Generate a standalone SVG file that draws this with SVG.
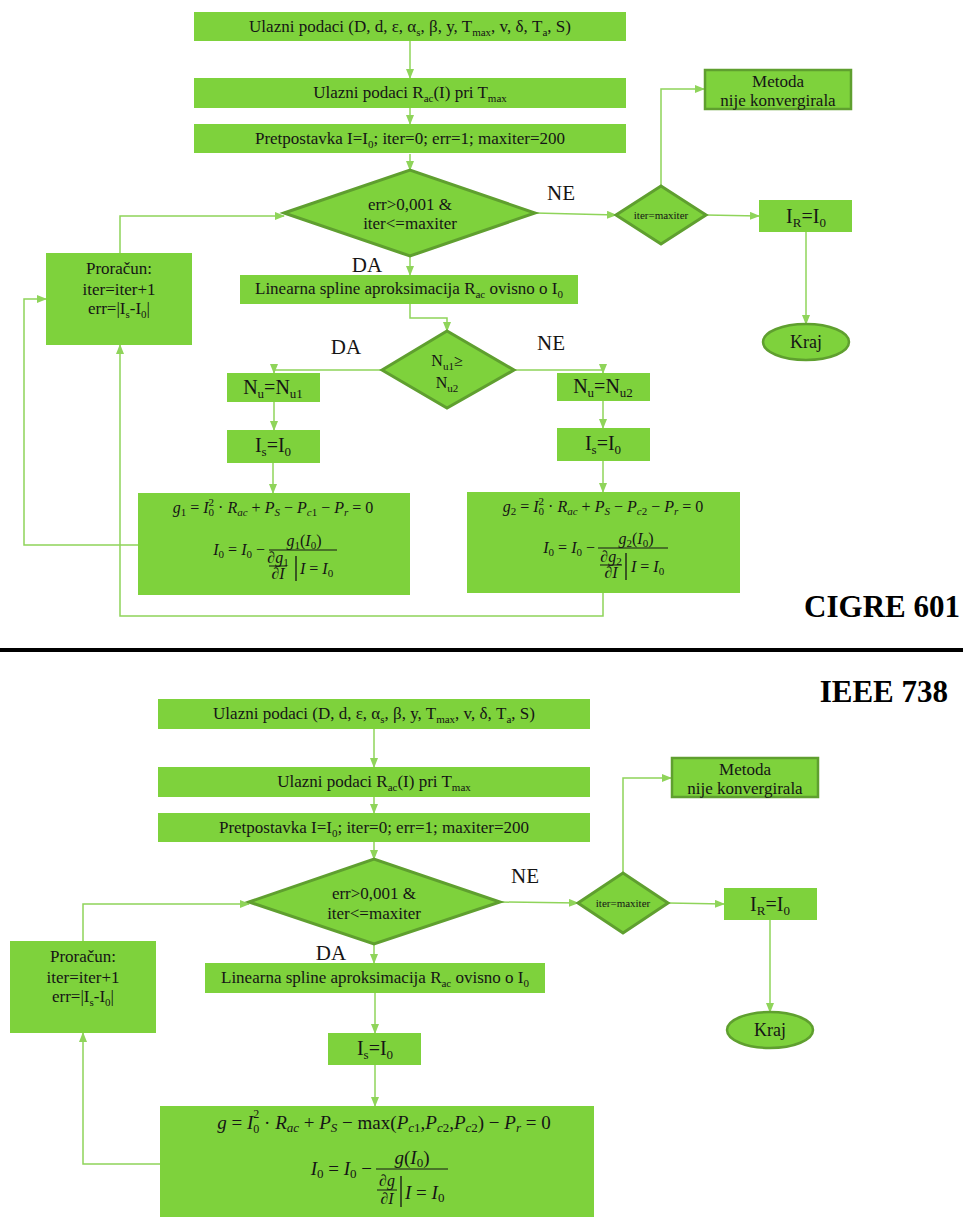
<svg xmlns="http://www.w3.org/2000/svg" width="963" height="1217" viewBox="0 0 963 1217">
<defs>
<marker id="ah" markerWidth="10" markerHeight="8" refX="9" refY="4" orient="auto" markerUnits="userSpaceOnUse">
<path d="M0,0 L10,4 L0,8 z" fill="#8fd45a"/>
</marker>
<style>
.b{fill:#7ed23c}
.d{fill:#7ed23c;stroke:#5f9f2f;stroke-width:3}
.ob{fill:#7ed23c;stroke:#5f9f2f;stroke-width:2.5}
.c{fill:none;stroke:#8fd45a;stroke-width:1.5;marker-end:url(#ah)}
.ml{stroke:#151515;stroke-width:1}
text{font-family:"Liberation Serif","Times New Roman",serif;fill:#151515}
.t{font-size:17px;text-anchor:middle}
.s{font-size:11px}
.lb{font-size:21px;text-anchor:middle}
.big{font-size:20px;text-anchor:middle}
.bs{font-size:13px}
.sm{font-size:11px;text-anchor:middle}
.h{font-size:31px;font-weight:bold;text-anchor:end;fill:#000}
.f{font-size:16px}
.fb{font-size:19px}
.i{font-style:italic}
.fs{font-size:11px}
.fbs{font-size:13px}
.fsup{font-size:12px}
.mid{text-anchor:middle}
.end{text-anchor:end}
</style>
</defs>

<g id="connectors">
<path class="c" d="M410,41 V78"/>
<path class="c" d="M410,108 V124"/>
<path class="c" d="M410,154 V170"/>
<path class="c" d="M535,213 L616,215"/>
<path class="c" d="M661,186 V89 H704"/>
<path class="c" d="M706,215 L759,216"/>
<path class="c" d="M806,232 V324"/>
<path class="c" d="M410,256 V275"/>
<path class="c" d="M410,304 V318 H447 V331"/>
<path class="c" d="M382,370 H274 V373"/>
<path class="c" d="M514,370 H603 V373"/>
<path class="c" d="M274,402 V430"/>
<path class="c" d="M603,401 V428"/>
<path class="c" d="M273,463 V493"/>
<path class="c" d="M603,461 V492"/>
<path class="c" d="M138,545 H24 V299 H46"/>
<path class="c" d="M603,593 V616 H120 V345"/>
<path class="c" d="M120,253 V216 H284"/>

<path class="c" d="M374,729 V767"/>
<path class="c" d="M374,797 V813"/>
<path class="c" d="M374,842 V859"/>
<path class="c" d="M500,902 L578,903"/>
<path class="c" d="M623,873 V778 H671"/>
<path class="c" d="M668,903 L724,904"/>
<path class="c" d="M770,920 V1012"/>
<path class="c" d="M374,944 V963"/>
<path class="c" d="M375,993 V1033"/>
<path class="c" d="M375,1065 V1106"/>
<path class="c" d="M160,1164 H83 V1033"/>
<path class="c" d="M83,941 V904 H249"/>
</g>

<!-- CIGRE 601 -->
<g id="c-ulaz1">
<rect class="b" x="194" y="12" width="432" height="29"/>
<text class="t" x="410" y="32">Ulazni podaci (D, d, ε, α<tspan class="s" dy="4">s</tspan><tspan dy="-4">, β, y, T</tspan><tspan class="s" dy="4">max</tspan><tspan dy="-4">, v, δ, T</tspan><tspan class="s" dy="4">a</tspan><tspan dy="-4">, S)</tspan></text>
</g>
<g id="c-ulaz2">
<rect class="b" x="194" y="78" width="432" height="30"/>
<text class="t" x="410" y="98">Ulazni podaci R<tspan class="s" dy="4">ac</tspan><tspan dy="-4">(I) pri T</tspan><tspan class="s" dy="4">max</tspan></text>
</g>
<g id="c-pretp">
<rect class="b" x="194" y="124" width="432" height="29"/>
<text class="t" x="410" y="144">Pretpostavka I=I<tspan class="s" dy="4">0</tspan><tspan dy="-4">; iter=0; err=1; maxiter=200</tspan></text>
</g>
<g id="c-uvjet">
<polygon class="d" points="284,213 410,170 535,213 410,256"/>
<text class="t" x="410" y="210">err&gt;0,001 &amp;</text>
<text class="t" x="410" y="229">iter&lt;=maxiter</text>
</g>
<text class="lb" x="561" y="200">NE</text>
<text class="lb" x="367" y="272">DA</text>
<g id="c-itermax">
<polygon class="d" points="616,215 661,186 706,215 661,244"/>
<text class="sm" x="661" y="219">iter=maxiter</text>
</g>
<g id="c-metoda">
<rect class="ob" x="705" y="70" width="146" height="39"/>
<text class="t" x="778" y="87">Metoda</text>
<text class="t" x="778" y="106">nije konvergirala</text>
</g>
<g id="c-ir">
<rect class="b" x="759" y="200" width="93" height="32"/>
<text class="big" x="806" y="223">I<tspan class="bs" dy="4">R</tspan><tspan dy="-4">=I</tspan><tspan class="bs" dy="4">0</tspan></text>
</g>
<g id="c-kraj">
<ellipse class="ob" cx="806" cy="342" rx="43" ry="18"/>
<text class="t" x="806" y="348" style="font-size:18px">Kraj</text>
</g>
<g id="c-spline">
<rect class="b" x="240" y="275" width="338" height="29"/>
<text class="t" x="409" y="294">Linearna spline aproksimacija R<tspan class="s" dy="4">ac</tspan><tspan dy="-4"> ovisno o I</tspan><tspan class="s" dy="4">0</tspan></text>
</g>
<g id="c-proracun">
<rect class="b" x="46" y="253" width="146" height="92"/>
<text class="t" x="119" y="274">Proračun:</text>
<text class="t" x="119" y="295">iter=iter+1</text>
<text class="t" x="119" y="314">err=|I<tspan class="s" dy="4">s</tspan><tspan dy="-4">-I</tspan><tspan class="s" dy="4">0</tspan><tspan dy="-4">|</tspan></text>
</g>
<g id="c-nu">
<polygon class="d" points="382,370 447,331 514,370 447,408"/>
<text class="t" x="447" y="366" style="font-size:16px">N<tspan class="s" dy="4">u1</tspan><tspan dy="-4">≥</tspan></text>
<text class="t" x="447" y="388" style="font-size:16px">N<tspan class="s" dy="4">u2</tspan></text>
</g>
<text class="lb" x="346" y="354">DA</text>
<text class="lb" x="551" y="350">NE</text>
<g id="c-nu1">
<rect class="b" x="227" y="373" width="93" height="29"/>
<text class="big" x="273" y="394">N<tspan class="bs" dy="4">u</tspan><tspan dy="-4">=N</tspan><tspan class="bs" dy="4">u1</tspan></text>
</g>
<g id="c-nu2">
<rect class="b" x="557" y="373" width="93" height="28"/>
<text class="big" x="603" y="393">N<tspan class="bs" dy="4">u</tspan><tspan dy="-4">=N</tspan><tspan class="bs" dy="4">u2</tspan></text>
</g>
<g id="c-is1">
<rect class="b" x="227" y="430" width="93" height="33"/>
<text class="big" x="273" y="452">I<tspan class="bs" dy="4">s</tspan><tspan dy="-4">=I</tspan><tspan class="bs" dy="4">0</tspan></text>
</g>
<g id="c-is2">
<rect class="b" x="557" y="428" width="93" height="33"/>
<text class="big" x="603" y="450">I<tspan class="bs" dy="4">s</tspan><tspan dy="-4">=I</tspan><tspan class="bs" dy="4">0</tspan></text>
</g>
<g id="c-g1">
<rect class="b" x="138" y="493" width="272" height="102"/>
<text class="f mid" x="273" y="513"><tspan class="i">g</tspan><tspan class="fs" dy="3">1</tspan><tspan dy="-3"> = </tspan><tspan class="i">I</tspan><tspan class="fs" dy="3">0</tspan><tspan class="fs" dx="-5.5" dy="-10">2</tspan><tspan dy="7"> · </tspan><tspan class="i">R</tspan><tspan class="fs i" dy="3">ac</tspan><tspan dy="-3"> + </tspan><tspan class="i">P</tspan><tspan class="fs i" dy="3">S</tspan><tspan dy="-3"> − </tspan><tspan class="i">P</tspan><tspan class="fs" dy="3"><tspan class="i">c</tspan>1</tspan><tspan dy="-3"> − </tspan><tspan class="i">P</tspan><tspan class="fs i" dy="3">r</tspan><tspan dy="-3"> = 0</tspan></text>
<text class="f end" x="265" y="555"><tspan class="i">I</tspan><tspan class="fs" dy="3">0</tspan><tspan dy="-3"> = </tspan><tspan class="i">I</tspan><tspan class="fs" dy="3">0</tspan><tspan dy="-3"> −</tspan></text>
<line class="ml" x1="269" y1="550" x2="337" y2="550"/>
<text class="f mid" x="304" y="546"><tspan class="i">g</tspan><tspan class="fs" dy="3">1</tspan><tspan dy="-3">(</tspan><tspan class="i">I</tspan><tspan class="fs" dy="3">0</tspan><tspan dy="-3">)</tspan></text>
<text class="f mid i" x="278" y="563">∂g<tspan class="fs" dy="3" style="font-style:normal">1</tspan></text>
<line class="ml" x1="269" y1="566" x2="287" y2="566"/>
<text class="f mid i" x="278" y="579">∂I</text>
<line class="ml" x1="296" y1="556" x2="296" y2="581" style="stroke-width:1.3"/>
<text class="f" x="300" y="574"><tspan class="i">I</tspan> = <tspan class="i">I</tspan><tspan class="fs" dy="3">0</tspan></text>
</g>
<g id="c-g2">
<rect class="b" x="467" y="492" width="273" height="101"/>
<text class="f mid" x="603" y="512"><tspan class="i">g</tspan><tspan class="fs" dy="3">2</tspan><tspan dy="-3"> = </tspan><tspan class="i">I</tspan><tspan class="fs" dy="3">0</tspan><tspan class="fs" dx="-5.5" dy="-10">2</tspan><tspan dy="7"> · </tspan><tspan class="i">R</tspan><tspan class="fs i" dy="3">ac</tspan><tspan dy="-3"> + </tspan><tspan class="i">P</tspan><tspan class="fs i" dy="3">S</tspan><tspan dy="-3"> − </tspan><tspan class="i">P</tspan><tspan class="fs" dy="3"><tspan class="i">c</tspan>2</tspan><tspan dy="-3"> − </tspan><tspan class="i">P</tspan><tspan class="fs i" dy="3">r</tspan><tspan dy="-3"> = 0</tspan></text>
<text class="f end" x="595" y="553"><tspan class="i">I</tspan><tspan class="fs" dy="3">0</tspan><tspan dy="-3"> = </tspan><tspan class="i">I</tspan><tspan class="fs" dy="3">0</tspan><tspan dy="-3"> −</tspan></text>
<line class="ml" x1="598" y1="548" x2="668" y2="548"/>
<text class="f mid" x="636" y="544"><tspan class="i">g</tspan><tspan class="fs" dy="3">2</tspan><tspan dy="-3">(</tspan><tspan class="i">I</tspan><tspan class="fs" dy="3">0</tspan><tspan dy="-3">)</tspan></text>
<text class="f mid i" x="611" y="562">∂g<tspan class="fs" dy="3" style="font-style:normal">2</tspan></text>
<line class="ml" x1="600" y1="565" x2="622" y2="565"/>
<text class="f mid i" x="611" y="578">∂I</text>
<line class="ml" x1="626" y1="553" x2="626" y2="580" style="stroke-width:1.3"/>
<text class="f" x="631" y="572"><tspan class="i">I</tspan> = <tspan class="i">I</tspan><tspan class="fs" dy="3">0</tspan></text>
</g>
<text class="h" x="960" y="617">CIGRE 601</text>

<rect id="separator" x="0" y="648" width="963" height="4" fill="#000"/>

<!-- IEEE 738 -->
<text class="h" x="948" y="702">IEEE 738</text>
<g id="i-ulaz1">
<rect class="b" x="158" y="699" width="432" height="30"/>
<text class="t" x="374" y="719">Ulazni podaci (D, d, ε, α<tspan class="s" dy="4">s</tspan><tspan dy="-4">, β, y, T</tspan><tspan class="s" dy="4">max</tspan><tspan dy="-4">, v, δ, T</tspan><tspan class="s" dy="4">a</tspan><tspan dy="-4">, S)</tspan></text>
</g>
<g id="i-ulaz2">
<rect class="b" x="158" y="767" width="432" height="30"/>
<text class="t" x="374" y="787">Ulazni podaci R<tspan class="s" dy="4">ac</tspan><tspan dy="-4">(I) pri T</tspan><tspan class="s" dy="4">max</tspan></text>
</g>
<g id="i-pretp">
<rect class="b" x="158" y="813" width="432" height="29"/>
<text class="t" x="374" y="833">Pretpostavka I=I<tspan class="s" dy="4">0</tspan><tspan dy="-4">; iter=0; err=1; maxiter=200</tspan></text>
</g>
<g id="i-uvjet">
<polygon class="d" points="249,902 374,859 500,902 374,944"/>
<text class="t" x="374" y="899">err&gt;0,001 &amp;</text>
<text class="t" x="374" y="919">iter&lt;=maxiter</text>
</g>
<text class="lb" x="525" y="883">NE</text>
<text class="lb" x="331" y="960">DA</text>
<g id="i-itermax">
<polygon class="d" points="578,903 623,873 668,903 623,933"/>
<text class="sm" x="623" y="907">iter=maxiter</text>
</g>
<g id="i-metoda">
<rect class="ob" x="672" y="758" width="146" height="39"/>
<text class="t" x="745" y="775">Metoda</text>
<text class="t" x="745" y="794">nije konvergirala</text>
</g>
<g id="i-ir">
<rect class="b" x="724" y="888" width="93" height="32"/>
<text class="big" x="770" y="911">I<tspan class="bs" dy="4">R</tspan><tspan dy="-4">=I</tspan><tspan class="bs" dy="4">0</tspan></text>
</g>
<g id="i-kraj">
<ellipse class="ob" cx="770" cy="1030" rx="43" ry="18"/>
<text class="t" x="770" y="1036" style="font-size:18px">Kraj</text>
</g>
<g id="i-spline">
<rect class="b" x="205" y="963" width="340" height="30"/>
<text class="t" x="375" y="983">Linearna spline aproksimacija R<tspan class="s" dy="4">ac</tspan><tspan dy="-4"> ovisno o I</tspan><tspan class="s" dy="4">0</tspan></text>
</g>
<g id="i-proracun">
<rect class="b" x="10" y="941" width="146" height="92"/>
<text class="t" x="83" y="962">Proračun:</text>
<text class="t" x="83" y="983">iter=iter+1</text>
<text class="t" x="83" y="1002">err=|I<tspan class="s" dy="4">s</tspan><tspan dy="-4">-I</tspan><tspan class="s" dy="4">0</tspan><tspan dy="-4">|</tspan></text>
</g>
<g id="i-is">
<rect class="b" x="328" y="1033" width="93" height="32"/>
<text class="big" x="375" y="1055">I<tspan class="bs" dy="4">s</tspan><tspan dy="-4">=I</tspan><tspan class="bs" dy="4">0</tspan></text>
</g>
<g id="i-g">
<rect class="b" x="160" y="1106" width="434" height="111"/>
<text class="fb mid" x="384" y="1129"><tspan class="i">g</tspan> = <tspan class="i">I</tspan><tspan class="fsup" dy="4">0</tspan><tspan class="fsup" dx="-6" dy="-15">2</tspan><tspan dy="11"> · </tspan><tspan class="i">R</tspan><tspan class="fbs i" dy="3">ac</tspan><tspan dy="-3"> + </tspan><tspan class="i">P</tspan><tspan class="fbs i" dy="3">S</tspan><tspan dy="-3"> − max(</tspan><tspan class="i">P</tspan><tspan class="fbs" dy="3"><tspan class="i">c</tspan>1</tspan><tspan dy="-3">,</tspan><tspan class="i">P</tspan><tspan class="fbs" dy="3"><tspan class="i">c</tspan>2</tspan><tspan dy="-3">,</tspan><tspan class="i">P</tspan><tspan class="fbs" dy="3"><tspan class="i">c</tspan>2</tspan><tspan dy="-3">) − </tspan><tspan class="i">P</tspan><tspan class="fbs i" dy="3">r</tspan><tspan dy="-3"> = 0</tspan></text>
<text class="fb end" x="372" y="1175"><tspan class="i">I</tspan><tspan class="fbs" dy="3">0</tspan><tspan dy="-3"> = </tspan><tspan class="i">I</tspan><tspan class="fbs" dy="3">0</tspan><tspan dy="-3"> −</tspan></text>
<line class="ml" x1="376" y1="1169" x2="448" y2="1169"/>
<text class="fb mid" x="412" y="1164"><tspan class="i">g</tspan>(<tspan class="i">I</tspan><tspan class="fbs" dy="3">0</tspan><tspan dy="-3">)</tspan></text>
<text class="f mid i" x="387" y="1186">∂g</text>
<line class="ml" x1="377" y1="1190" x2="397" y2="1190"/>
<text class="f mid i" x="387" y="1204">∂I</text>
<line class="ml" x1="401" y1="1176" x2="401" y2="1207" style="stroke-width:1.3"/>
<text class="fb" x="405" y="1199"><tspan class="i">I</tspan> = <tspan class="i">I</tspan><tspan class="fbs" dy="3">0</tspan></text>
</g>
</svg>
